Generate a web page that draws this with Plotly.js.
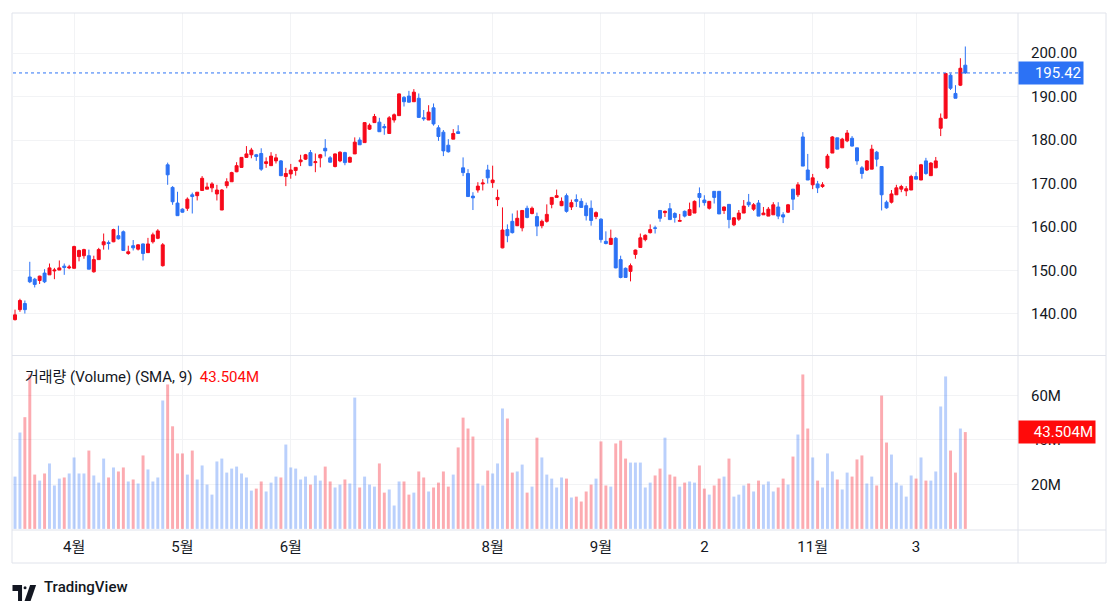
<!DOCTYPE html>
<html>
<head>
<meta charset="utf-8">
<script src="https://cdn.plot.ly/plotly-3.0.1.min.js"></script>
<style>
html,body{margin:0;padding:0;background:#fff;}
#chart{width:1118px;height:609px;}
</style>
</head>
<body>
<div id="chart"></div>
<script>
// ---- data ----
const openP = [138.7,141.0,142.4,148.5,148.0,147.7,149.4,149.0,149.9,150.1,151.0,150.6,150.5,153.2,153.4,153.4,149.7,152.5,155.9,156.4,
156.6,158.0,158.9,153.9,155.7,154.9,156.1,154.1,156.6,157.4,151.1,174.3,169.1,165.5,164.1,164.3,167.4,167.2,168.4,168.7,
169.0,167.6,163.9,169.5,170.4,172.7,173.7,176.0,176.6,176.6,176.9,174.6,174.1,175.2,175.2,171.6,172.2,173.0,175.0,175.6,
177.1,174.8,175.9,178.1,175.9,173.9,175.2,177.1,174.9,176.8,180.0,179.4,182.5,184.0,184.1,183.1,181.5,184.6,185.6,189.8,
190.1,188.8,189.6,185.1,184.6,187.4,182.8,181.8,178.8,180.2,181.9,173.6,172.3,167.1,168.5,169.9,173.1,170.2,166.3,155.2,
159.4,161.3,160.3,159.8,164.3,163.1,162.4,160.3,161.3,165.2,166.8,164.9,167.2,164.6,166.3,165.9,164.9,164.3,162.4,161.8,
156.7,156.0,157.4,152.5,150.5,149.8,153.7,155.3,157.1,158.7,159.8,163.8,163.3,164.2,163.1,161.3,163.6,162.7,163.2,167.7,
166.2,164.3,168.2,168.2,163.8,165.2,160.5,161.8,163.2,165.7,164.1,165.5,162.8,162.5,162.8,164.6,162.8,163.4,168.7,167.4,
180.7,173.1,169.7,169.9,169.3,173.6,177.0,180.5,178.2,179.8,180.4,178.2,173.6,173.1,173.3,177.2,173.9,165.7,165.7,167.4,
168.7,168.3,168.5,171.6,170.8,175.2,171.8,173.6,182.7,185.0,194.9,190.7,192.6,197.2];
const highP = [141.0,143.5,143.1,152.0,148.3,148.8,150.3,151.6,150.6,152.3,151.6,151.3,155.7,154.8,155.0,154.8,153.4,155.2,158.5,156.9,
159.6,160.3,159.2,155.7,157.0,156.0,156.2,157.5,158.7,159.5,156.3,174.8,169.4,168.1,164.3,166.8,167.9,168.0,171.7,170.2,
170.3,169.7,168.7,171.2,172.7,174.9,176.0,178.6,178.2,176.8,178.1,176.0,177.2,176.8,175.4,173.6,174.5,173.7,176.6,176.8,
177.7,176.9,176.8,180.2,176.3,176.9,177.4,177.3,176.2,180.6,180.6,184.1,183.8,186.0,185.1,183.7,185.5,186.1,190.7,190.1,
191.3,191.7,190.7,186.9,188.0,188.4,183.4,182.3,180.2,182.5,183.4,176.0,173.3,168.0,170.3,171.0,174.3,174.1,168.6,164.5,
160.6,163.1,163.8,163.8,164.9,164.7,163.3,161.7,165.2,166.8,168.6,166.8,167.7,166.3,167.5,166.6,165.6,166.1,163.6,162.0,
159.0,159.4,157.7,153.4,150.7,151.6,154.8,158.5,158.3,160.6,160.3,163.8,163.8,165.5,163.4,163.0,163.8,165.6,166.1,169.1,
167.3,165.9,168.2,168.2,164.7,165.2,162.3,163.9,166.2,167.6,165.5,166.2,164.6,164.6,165.7,165.7,163.4,165.3,168.7,170.3,
181.8,176.8,172.2,170.6,170.3,176.8,180.9,180.5,180.5,182.3,180.9,178.2,174.0,175.4,178.9,177.5,174.0,166.1,168.5,169.7,
169.7,169.4,172.0,172.6,174.5,175.9,174.9,176.1,186.1,195.3,195.3,192.6,198.8,201.5];
const lowP = [138.5,140.5,140.1,147.1,146.1,146.9,147.1,149.0,148.0,150.1,149.0,150.3,150.5,152.1,152.7,150.3,149.5,152.5,154.8,154.8,
156.5,157.1,154.6,153.6,154.6,154.6,152.3,154.1,156.2,157.2,150.9,169.7,165.1,162.6,163.3,163.7,163.1,166.1,168.4,168.7,
168.0,166.1,163.9,168.9,170.4,172.6,173.6,176.0,175.8,175.2,172.9,173.6,174.1,174.6,171.7,169.4,171.1,171.8,174.0,175.4,
174.1,172.6,173.7,176.2,174.8,173.7,174.9,174.2,174.8,176.8,178.9,179.4,182.3,184.0,181.9,181.2,181.4,184.0,185.6,187.7,
188.6,188.8,185.1,184.4,184.6,183.3,179.8,176.3,177.1,180.2,181.4,171.7,167.0,163.9,167.9,168.4,170.0,169.0,164.8,155.1,
156.5,158.5,160.2,159.0,162.0,162.9,157.9,159.7,161.0,164.3,166.8,164.8,163.3,163.9,164.6,164.5,161.5,160.3,161.8,156.4,
156.0,156.0,150.5,148.2,148.4,147.5,152.7,155.3,156.7,158.5,158.5,161.2,162.3,161.7,161.0,161.3,162.2,162.6,163.2,164.5,
164.9,164.0,165.4,163.0,163.0,159.7,160.2,161.4,163.2,164.6,163.7,162.5,162.8,162.5,162.8,161.8,160.9,163.2,163.9,166.9,
174.0,170.8,168.7,167.8,169.0,173.3,177.0,177.9,178.2,179.5,178.5,174.3,171.1,172.9,173.3,173.9,163.8,164.2,165.4,167.4,
168.0,167.1,168.5,171.0,170.8,172.0,171.8,173.6,180.9,185.0,191.5,189.6,192.4,195.2];
const closeP = [139.8,143.1,141.0,147.4,146.8,148.7,147.4,150.6,150.1,150.6,150.7,150.8,155.5,154.6,154.8,150.3,152.5,154.8,156.6,156.2,
159.4,157.3,154.6,154.3,155.2,155.9,153.9,156.1,158.2,159.1,155.9,172.0,165.8,162.6,163.4,166.4,167.0,168.0,171.2,169.2,
169.9,168.5,168.5,170.4,172.5,174.1,176.0,176.8,177.7,176.2,173.3,175.0,176.3,175.9,171.8,172.3,173.1,173.7,175.4,176.6,
174.1,175.0,176.6,177.5,174.9,176.8,177.2,174.8,176.0,179.5,178.9,184.0,183.4,185.4,181.9,182.8,185.1,185.8,190.6,188.8,
188.7,191.0,185.2,184.9,186.4,183.7,180.8,177.5,177.3,181.5,181.5,172.5,167.0,166.7,169.4,170.1,171.3,170.8,166.8,159.3,
158.0,158.7,162.0,163.8,162.2,164.3,160.2,161.3,162.9,166.8,167.2,165.9,163.6,165.6,165.9,164.5,162.6,161.5,163.3,157.1,
156.2,157.4,150.6,148.4,148.4,151.1,154.7,157.5,158.1,159.4,159.7,162.0,163.6,161.7,162.2,161.5,162.5,164.0,165.9,166.8,
165.6,165.9,166.8,163.0,164.6,161.7,162.1,163.2,164.8,165.1,165.1,162.5,163.2,164.1,165.1,162.5,162.3,165.1,166.4,169.7,
174.0,170.8,171.3,169.0,169.7,176.3,180.7,177.9,180.2,181.6,178.6,175.2,172.3,175.2,177.9,175.6,167.4,164.4,167.6,169.0,
169.3,168.8,171.6,171.0,174.3,172.3,174.7,175.2,185.0,195.3,191.9,189.6,196.5,195.42];
const volumeM = [23.5,43.3,50.2,69.4,24.4,21.7,24.9,29.4,19.5,22.6,23.1,24.9,32.1,24.9,24.9,35.2,24.0,20.8,31.6,23.1,
27.6,25.8,27.6,21.3,22.2,20.4,33.0,26.7,21.3,23.1,57.7,64.9,46.1,33.9,33.9,24.4,35.2,22.2,28.5,19.9,
15.4,30.3,31.6,25.3,27.1,28.0,24.9,23.1,17.2,18.1,21.3,16.8,20.8,23.5,23.1,37.9,27.6,27.1,22.2,23.5,
19.9,24.0,21.7,28.0,21.3,18.6,19.9,22.2,20.4,59.0,18.6,23.5,19.9,19.0,29.4,16.3,17.7,10.5,21.3,21.3,
15.4,16.3,25.8,23.1,16.8,18.6,20.8,25.8,19.0,24.4,36.6,50.0,45.1,41.5,20.4,19.5,26.2,24.9,29.4,54.1,
49.6,25.3,25.8,28.9,16.3,19.0,41.0,32.1,24.4,22.6,18.6,23.1,22.6,14.1,14.5,12.3,16.8,19.9,22.6,39.3,
19.5,19.0,38.4,39.7,31.6,29.8,29.8,29.8,18.6,20.8,24.0,27.1,41.0,24.4,23.5,19.0,20.8,21.3,20.8,28.5,
18.1,15.4,19.5,22.6,23.5,31.6,14.5,15.4,19.5,20.4,16.8,21.7,19.9,21.3,16.8,18.6,22.6,19.9,32.5,42.4,
69.4,45.1,32.1,21.7,18.6,33.9,25.8,22.2,17.7,25.3,23.5,31.2,33.0,20.4,23.5,19.5,59.9,38.8,33.4,20.8,
19.5,14.5,24.0,22.6,32.1,21.7,21.7,25.8,55.0,68.5,35.2,25.3,45.1,43.504];
const tickLabels = ['4월','5월','6월','8월','9월','2','11월','3'];
const tickIndex  = [12, 34, 56, 97, 119, 140, 162, 183];
const volumeTitle = '거래량 (Volume) (SMA, 9)';
const priceTicks = [140,150,160,170,180,190,200];
const volumeTicks = [20,40,60];

// ---- derived ----
const idx = closeP.map((_, i) => i);
const UP = '#f7091a', DOWN = '#2c72f5';
const volColors = closeP.map((c, i) => c >= openP[i] ? 'rgba(41,110,245,0.32)' : 'rgba(247,9,26,0.34)');
const lastClose = closeP[closeP.length - 1];
const lastVol = volumeM[volumeM.length - 1];
const lastVolColor = closeP[closeP.length-1] >= openP[openP.length-1] ? '#2c72f5' : '#ff0a0a';

const FONT = 'Roboto, "Noto Sans CJK KR", "Liberation Sans", sans-serif';
const TXT = '#131722';
const GRID = '#f2f3f5';
const SEP = '#e0e3eb';

const traces = [
  {
    type: 'candlestick', x: idx, open: openP, high: highP, low: lowP, close: closeP,
    xaxis: 'x', yaxis: 'y',
    increasing: {line: {color: UP, width: 1}, fillcolor: UP},
    decreasing: {line: {color: DOWN, width: 1}, fillcolor: DOWN},
    whiskerwidth: 0, hoverinfo: 'skip', showlegend: false
  },
  {
    type: 'bar', x: idx, y: volumeM, xaxis: 'x', yaxis: 'y2',
    marker: {color: volColors, line: {width: 0}}, width: 0.6,
    hoverinfo: 'skip', showlegend: false
  }
];

const layout = {
  width: 1118, height: 609,
  paper_bgcolor: '#ffffff', plot_bgcolor: '#ffffff',
  margin: {l: 13, r: 100, t: 13, b: 79},
  font: {family: FONT, size: 15, color: TXT},
  showlegend: false,
  boxgap: 0.14,
  xaxis: {
    range: [-0.41, 203.7], anchor: 'y2', rangeslider: {visible: false},
    tickmode: 'array', tickvals: tickIndex, ticktext: tickLabels,
    showgrid: true, gridcolor: GRID, gridwidth: 1, zeroline: false,
    showline: false, ticks: '', tickfont: {size: 15, color: TXT, family: FONT},
    ticklabelstandoff: 6, fixedrange: true
  },
  yaxis: {
    domain: [0.3385, 1], range: [130.57, 209.2], side: 'right', anchor: 'x',
    tickmode: 'array', tickvals: priceTicks, ticktext: priceTicks.map(v => v.toFixed(2)),
    showgrid: true, gridcolor: GRID, zeroline: false, showline: false, ticks: '',
    ticklabelstandoff: 12, tickfont: {size: 15, color: TXT, family: FONT}
  },
  yaxis2: {
    domain: [0, 0.3366], range: [-0.5, 77.7], side: 'right', anchor: 'x',
    tickmode: 'array', tickvals: volumeTicks, ticktext: volumeTicks.map(v => v + 'M'),
    showgrid: true, gridcolor: GRID, zeroline: false, showline: false, ticks: '',
    ticklabelstandoff: 12, tickfont: {size: 15, color: TXT, family: FONT}
  },
  shapes: [
    {type: 'rect', xref: 'paper', yref: 'paper', x0: -1/1005, x1: 1093/1005, y0: -33/517, y1: 1, line: {color: SEP, width: 1}},
    {type: 'line', xref: 'paper', yref: 'paper', x0: 1, x1: 1, y0: -33/517, y1: 1, line: {color: SEP, width: 1}},
    {type: 'line', xref: 'paper', yref: 'paper', x0: -1/1005, x1: 1093/1005, y0: 0.3375, y1: 0.3375, line: {color: SEP, width: 1}},
    {type: 'line', xref: 'paper', yref: 'paper', x0: -1/1005, x1: 1093/1005, y0: 0, y1: 0, line: {color: SEP, width: 1}},
    {type: 'line', xref: 'paper', yref: 'y', x0: 0, x1: 1, y0: lastClose, y1: lastClose, line: {color: DOWN, width: 1, dash: 'dot'}},
    {type: 'path', xref: 'paper', yref: 'paper',
     path: 'M -0.0005,-0.1064 L 0.0090,-0.1064 L 0.0090,-0.1373 L 0.0050,-0.1373 L 0.0050,-0.1180 L -0.0005,-0.1180 Z',
     fillcolor: TXT, line: {width: 0}},
    {type: 'circle', xref: 'paper', yref: 'paper', x0: 0.0105, x1: 0.0135, y0: -0.1148, y1: -0.1090, fillcolor: TXT, line: {width: 0}},
    {type: 'path', xref: 'paper', yref: 'paper',
     path: 'M 0.0170,-0.1064 L 0.0230,-0.1064 L 0.0175,-0.1373 L 0.0115,-0.1373 Z',
     fillcolor: TXT, line: {width: 0}}
  ],
  annotations: [
    {xref: 'paper', yref: 'y', x: 1, y: lastClose, xanchor: 'left', yanchor: 'middle',
     text: lastClose.toFixed(2), showarrow: false, bgcolor: DOWN, borderpad: 2, width: 60, align: 'right',
     font: {color: '#ffffff', size: 15, family: FONT}},
    {xref: 'paper', yref: 'y2', x: 1, y: lastVol, xanchor: 'left', yanchor: 'middle',
     text: lastVol.toFixed(3) + 'M', showarrow: false, bgcolor: lastVolColor, borderpad: 2, width: 72, align: 'right',
     font: {color: '#ffffff', size: 15, family: FONT}},
    {xref: 'paper', yref: 'paper', x: 10/1005, y: (530-377)/517, xanchor: 'left', yanchor: 'middle',
     text: volumeTitle + '  <span style="color:' + lastVolColor + '">' + lastVol.toFixed(3) + 'M</span>',
     showarrow: false, font: {size: 15, color: TXT, family: FONT}},
    {xref: 'paper', yref: 'paper', x: 29/1005, y: -(587-530)/517, xanchor: 'left', yanchor: 'middle',
     text: 'TradingView', showarrow: false, font: {size: 15, color: TXT, family: 'Roboto, sans-serif', weight: 500}}
  ]
};

Plotly.newPlot('chart', traces, layout, {staticPlot: true, displayModeBar: false});
</script>
</body>
</html>
